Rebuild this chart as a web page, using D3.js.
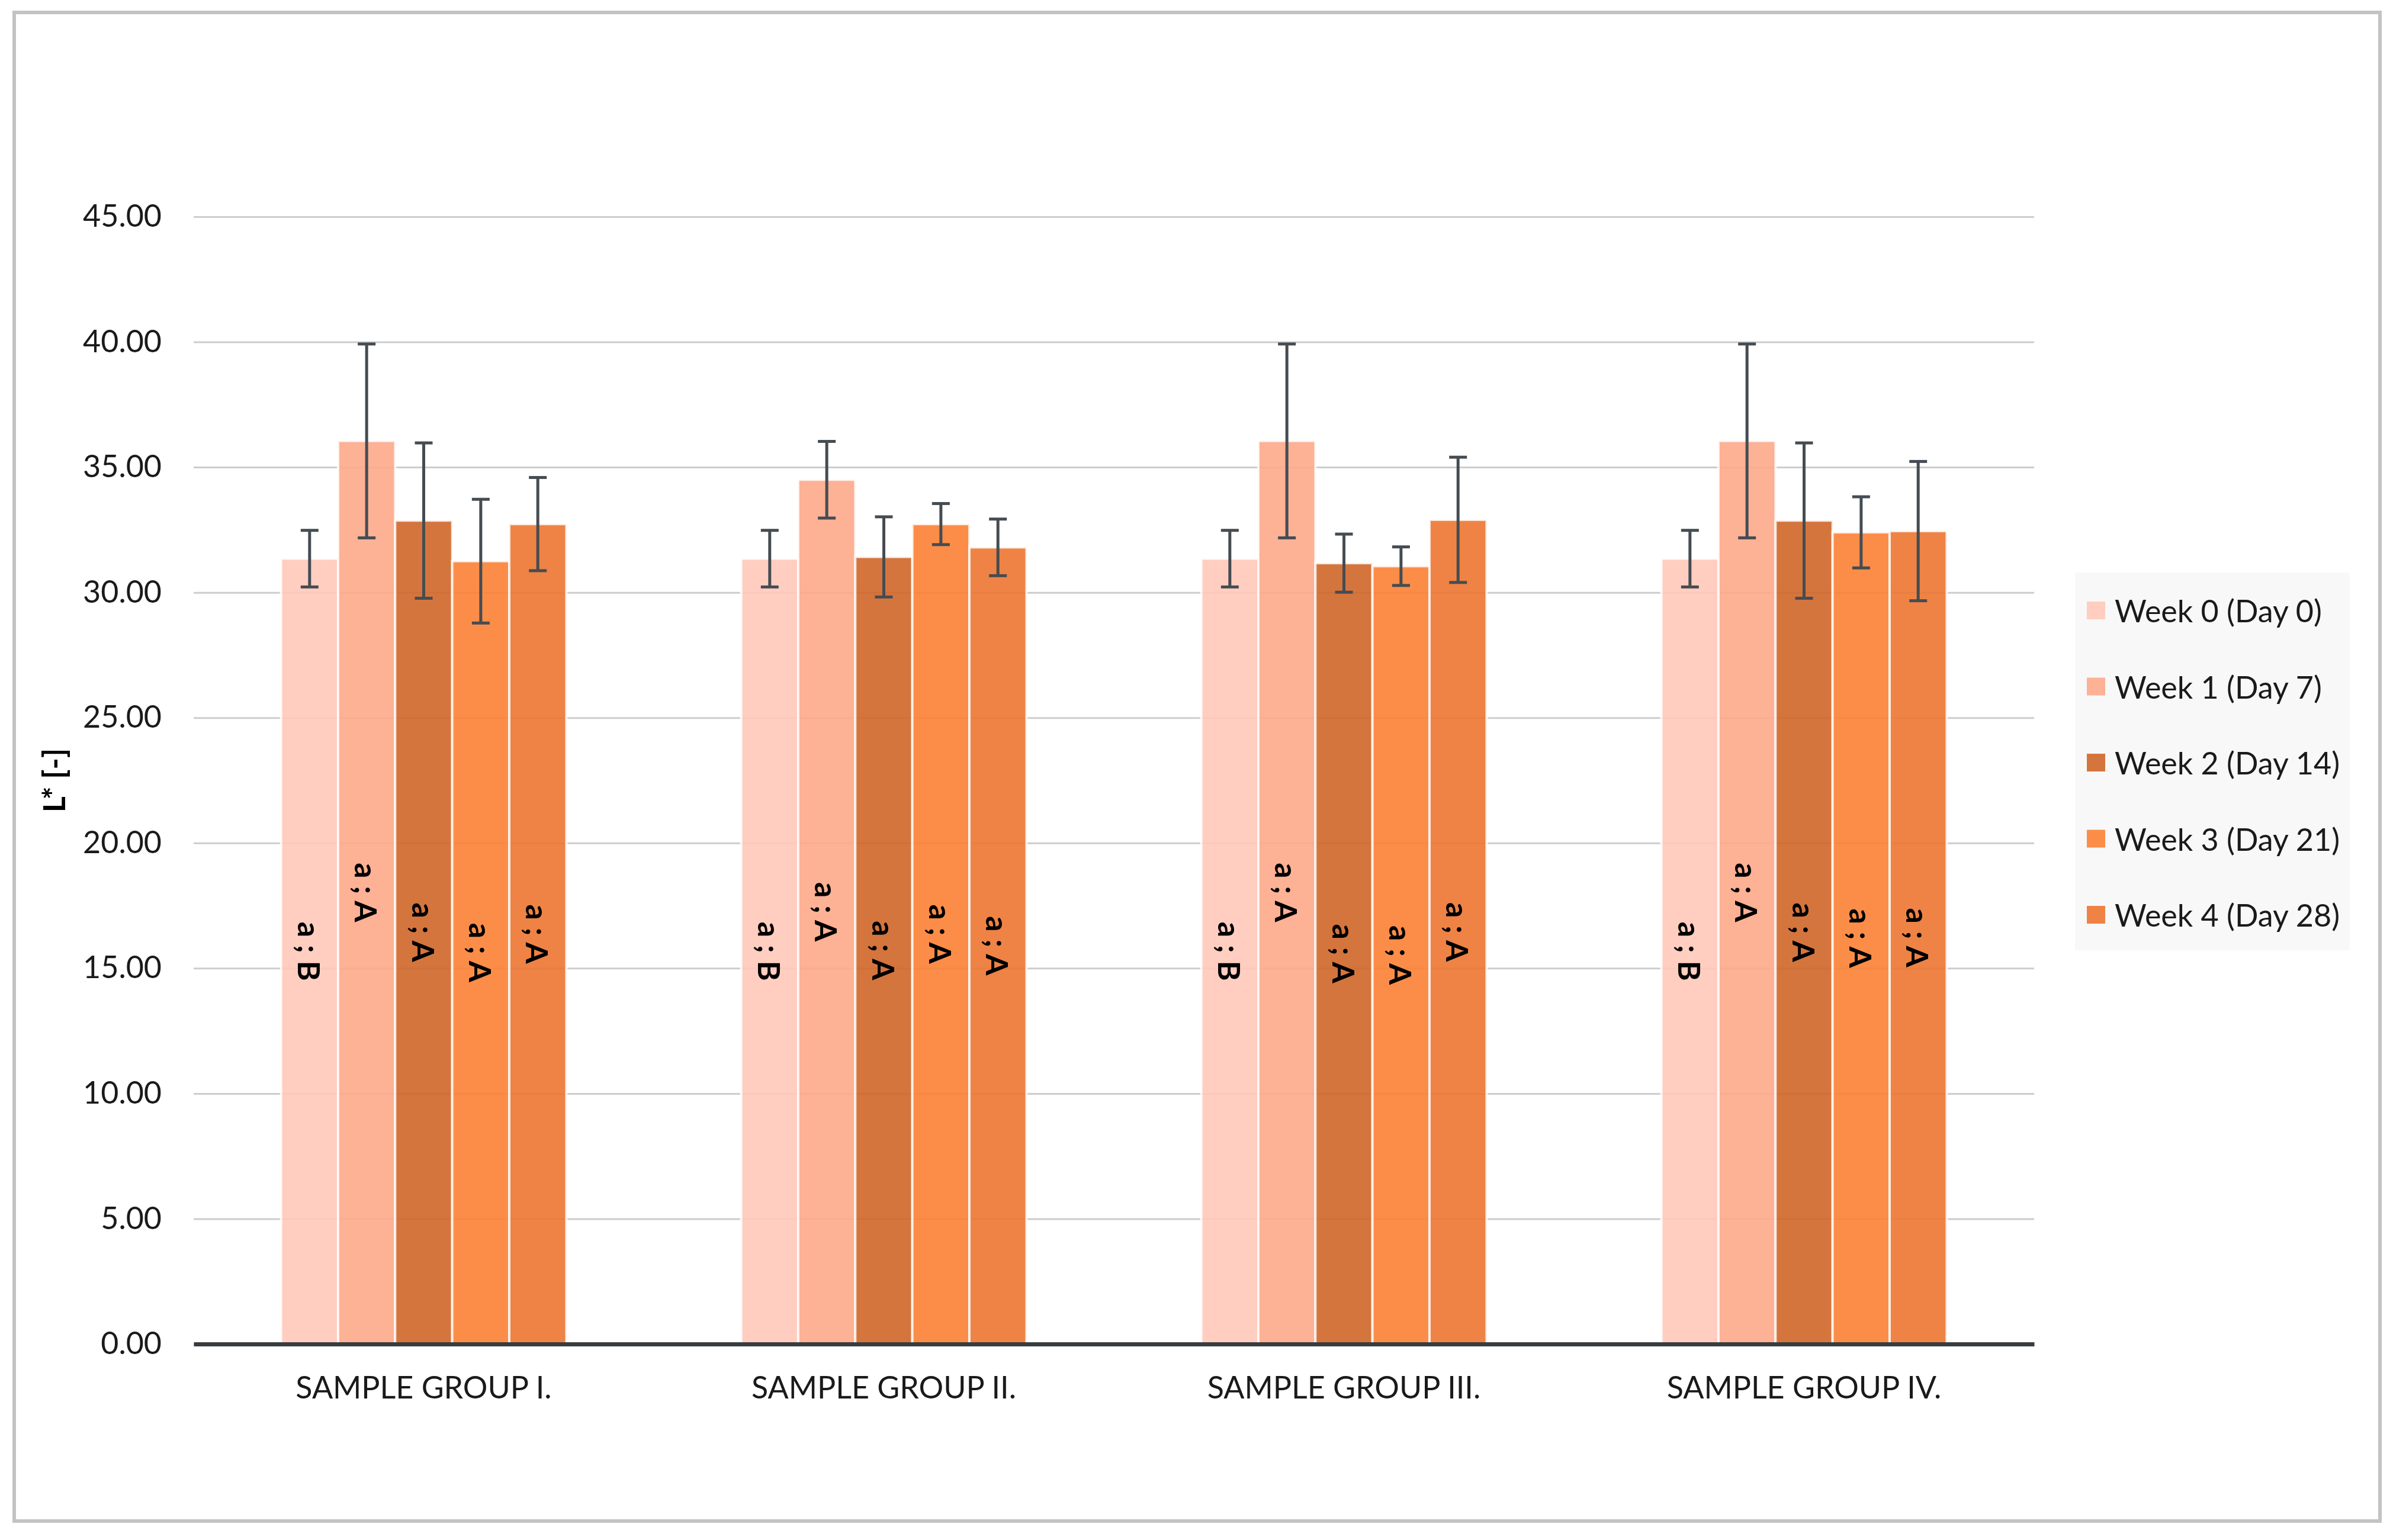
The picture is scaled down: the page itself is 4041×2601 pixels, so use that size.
<!DOCTYPE html>
<html>
<head>
<meta charset="utf-8">
<title>L* by sample group</title>
<script src="https://cdn.jsdelivr.net/npm/d3@7"></script>
<style>
  body { margin: 0; background: #fff; }
  text { font-family: Lato, "Open Sans", sans-serif; }
</style>
</head>
<body>
<div id="chart"></div>
<script>
const groups = ['SAMPLE GROUP I.', 'SAMPLE GROUP II.', 'SAMPLE GROUP III.', 'SAMPLE GROUP IV.'];
const weeks = ['Week 0 (Day 0)', 'Week 1 (Day 7)', 'Week 2 (Day 14)', 'Week 3 (Day 21)', 'Week 4 (Day 28)'];
const colors = ['#ffc9b9', '#fda98a', '#cf6629', '#fc8134', '#ec7631'];

// mean L* per week, one value per sample group
const meanWeek0 = [31.35, 31.35, 31.35, 31.35];
const meanWeek1 = [36.05, 34.50, 36.05, 36.05];
const meanWeek2 = [32.87, 31.42, 31.17, 32.87];
const meanWeek3 = [31.25, 32.73, 31.05, 32.40];
const meanWeek4 = [32.73, 31.80, 32.90, 32.45];

// error bar half-lengths
const errWeek0 = [1.13, 1.13, 1.13, 1.13];
const errWeek1 = [3.87, 1.53, 3.87, 3.87];
const errWeek2 = [3.10, 1.60, 1.16, 3.10];
const errWeek3 = [2.47, 0.82, 0.77, 1.42];
const errWeek4 = [1.86, 1.13, 2.50, 2.78];

// significance letters
const letWeek0 = ['a ; B', 'a ; B', 'a ; B', 'a ; B'];
const letWeek1 = ['a ; A', 'a ; A', 'a ; A', 'a ; A'];
const letWeek2 = ['a ; A', 'a ; A', 'a ; A', 'a ; A'];
const letWeek3 = ['a ; A', 'a ; A', 'a ; A', 'a ; A'];
const letWeek4 = ['a ; A', 'a ; A', 'a ; A', 'a ; A'];

const yTicks = [0, 5, 10, 15, 20, 25, 30, 35, 40, 45];

const means = [meanWeek0, meanWeek1, meanWeek2, meanWeek3, meanWeek4];
const errs = [errWeek0, errWeek1, errWeek2, errWeek3, errWeek4];
const lets = [letWeek0, letWeek1, letWeek2, letWeek3, letWeek4];

const W = 4041, H = 2601;
const plot = { left: 327, right: 3435, top: 366, bottom: 2270 };


window.onload = () => {
  const svg = d3.select('#chart')
    .append('svg')
    .attr('width', W)
    .attr('height', H);

  svg.append('rect')
     .attr('x', 24).attr('y', 21)
     .attr('width', 4019 - 24).attr('height', 2569 - 21)
     .attr('fill', '#fff')
     .attr('stroke', '#c3c3c3')
     .attr('stroke-width', 6);

  const y = d3.scaleLinear()
              .domain([0, 45])
              .range([plot.bottom, plot.top]);

  const x0 = d3.scaleBand()
               .domain(groups)
               .range([plot.left, plot.right])
               .paddingInner(0.38)
               .paddingOuter(0.19);

  const x1 = d3.scaleBand()
               .domain(weeks)
               .range([0, x0.bandwidth()]);

  const color = d3.scaleOrdinal().domain(weeks).range(colors);

  // gridlines + tick labels
  const yAxis = svg.append('g')
    .attr('transform', `translate(${plot.left}, 0)`)
    .call(d3.axisLeft(y)
            .tickValues(yTicks)
            .tickFormat(d3.format('.2f'))
            .tickSizeInner(-(plot.right - plot.left))
            .tickSizeOuter(0)
            .tickPadding(54));
  yAxis.select('.domain').remove();
  yAxis.selectAll('line')
       .attr('stroke', '#cdcdcd')
       .attr('stroke-width', 3);
  yAxis.selectAll('text')
       .attr('font-size', 52)
       .attr('fill', '#1a1a1a');

  // bars
  const rows = [];
  groups.forEach((g, gi) => {
    weeks.forEach((w, wi) => {
      rows.push({ group: g, week: w, mean: means[wi][gi], err: errs[wi][gi], lab: lets[wi][gi] });
    });
  });

  const bars = svg.append('g')
    .selectAll('g')
    .data(rows)
    .enter()
    .append('g')
    .attr('transform', d => `translate(${x0(d.group) + x1(d.week)}, 0)`);

  bars.append('rect')
      .attr('x', 0)
      .attr('y', d => y(d.mean))
      .attr('width', x1.bandwidth())
      .attr('height', d => y(0) - y(d.mean))
      .attr('fill', d => color(d.week))
      .attr('fill-opacity', 0.9)
      .attr('stroke', '#fff')
      .attr('stroke-width', 4)
      .attr('stroke-opacity', 0.8);

  // x axis (drawn over bar bottoms)
  const xAxis = svg.append('g')
    .attr('transform', `translate(0, ${y(0)})`)
    .call(d3.axisBottom(x0).tickSize(0).tickPadding(55));
  xAxis.select('.domain')
       .attr('stroke', '#383c3f')
       .attr('stroke-width', 7);
  xAxis.selectAll('text')
       .attr('font-size', 52)
       .attr('fill', '#1a1a1a');

  // error bars
  const cx = x1.bandwidth() / 2;
  const cap = 15;
  const eb = bars.append('g')
      .attr('stroke', '#454c52')
      .attr('stroke-width', 5);
  eb.append('line')
    .attr('x1', cx).attr('x2', cx)
    .attr('y1', d => y(d.mean + d.err))
    .attr('y2', d => y(d.mean - d.err));
  eb.append('line')
    .attr('x1', cx - cap).attr('x2', cx + cap)
    .attr('y1', d => y(d.mean + d.err))
    .attr('y2', d => y(d.mean + d.err));
  eb.append('line')
    .attr('x1', cx - cap).attr('x2', cx + cap)
    .attr('y1', d => y(d.mean - d.err))
    .attr('y2', d => y(d.mean - d.err));

  // letters, centred in the bar
  bars.append('text')
      .attr('transform', d => `translate(${cx}, ${y(d.mean / 2)}) rotate(90)`)
      .attr('text-anchor', 'middle')
      .attr('dominant-baseline', 'central')
      .attr('font-size', 52)
      .attr('font-weight', 'bold')
      .attr('fill', '#000')
      .text(d => d.lab);

  // y title
  svg.append('text')
     .attr('transform', `translate(90, ${(plot.top + plot.bottom) / 2}) rotate(-90)`)
     .attr('text-anchor', 'middle')
     .attr('dominant-baseline', 'central')
     .attr('font-size', 52)
     .attr('font-weight', 'bold')
     .attr('fill', '#000')
     .text('L* [-]');

  // legend
  const ly = d3.scalePoint().domain(weeks).range([1031, 1545]);
  const legend = svg.append('g');
  legend.append('rect')
        .attr('x', 3504).attr('y', 967)
        .attr('width', 464).attr('height', 638)
        .attr('fill', '#f8f8f8');
  const items = legend.selectAll('g.item')
    .data(weeks)
    .enter()
    .append('g')
    .attr('class', 'item')
    .attr('transform', d => `translate(3524, ${ly(d)})`);
  items.append('rect')
       .attr('x', 0).attr('y', -15)
       .attr('width', 31).attr('height', 30)
       .attr('fill', d => color(d))
       .attr('fill-opacity', 0.9);
  items.append('text')
       .attr('x', 47)
       .attr('dominant-baseline', 'central')
       .attr('font-size', 52)
       .attr('fill', '#1a1a1a')
       .text(d => d);
};  // End window.onload()
</script>
</body>
</html>
